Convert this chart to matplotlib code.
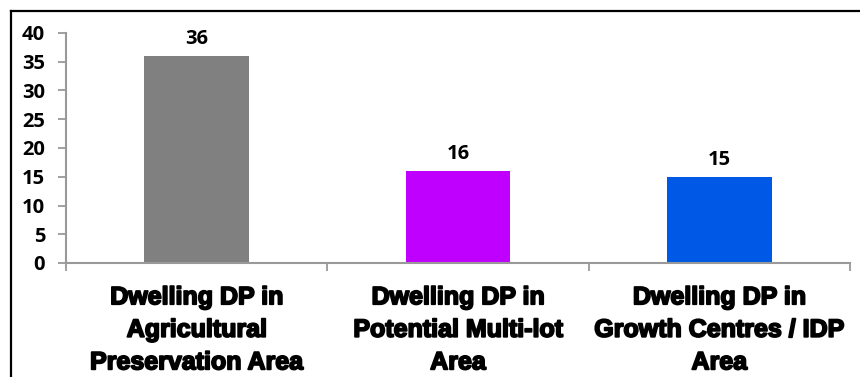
import matplotlib.pyplot as plt
from matplotlib.lines import Line2D
import matplotlib.patheffects as pe

categories = ['Dwelling DP in\nAgricultural\nPreservation Area',
              'Dwelling DP in\nPotential Multi-lot\nArea',
              'Dwelling DP in\nGrowth Centres / IDP\nArea']
values = [36, 16, 15]
colors = ['#808080', '#C000FF', '#0058E6']
y_ticks = [0, 5, 10, 15, 20, 25, 30, 35, 40]

num_font = dict(fontsize=14.5, fontweight='bold', family='Open Sans')

fig = plt.figure(figsize=(8.6, 3.77), dpi=100)
ax = fig.add_axes([66 / 860, 1 - 263 / 377, 784 / 860, 230 / 377])

x = range(len(categories))
bars = ax.bar(x, values, width=0.40, color=colors, zorder=2)

for b, v in zip(bars, values):
    ax.annotate(str(v), (b.get_x() + b.get_width() / 2, v),
                xytext=(0, 5), textcoords='offset points',
                ha='center', va='bottom', **num_font)

ax.set_xlim(-0.5, len(categories) - 0.5)
ax.set_ylim(0, 40)
ax.set_yticks(y_ticks)
ax.set_yticklabels([str(t) for t in y_ticks], **num_font)

# category labels sit between boundary ticks
ax.set_xticks(list(x))
ax.set_xticklabels(categories, fontsize=18, fontweight='bold',
                   family='Liberation Sans', linespacing=1.45)
for lbl in ax.get_xticklabels():
    lbl.set_path_effects([pe.withStroke(linewidth=1.3, foreground='black')])
ax.set_xticks([i - 0.5 for i in range(len(categories) + 1)], minor=True)
ax.tick_params(axis='x', which='major', length=0, pad=16)
ax.tick_params(axis='x', which='minor', length=6, width=1.3, color='#999999')
ax.tick_params(axis='y', length=6, width=1.3, color='#999999', pad=9)

for s in ['top', 'right']:
    ax.spines[s].set_visible(False)
for s in ['left', 'bottom']:
    ax.spines[s].set_color('#999999')
    ax.spines[s].set_linewidth(1.5)

# frame around the chart (left and top edges)
W, H = 860, 377
fig.add_artist(Line2D([10.5 / W, 10.5 / W], [1 - 10.5 / H, 0], color='black', lw=1.6,
                      transform=fig.transFigure))
fig.add_artist(Line2D([10.5 / W, 1], [1 - 10.5 / H, 1 - 10.5 / H], color='black', lw=1.6,
                      transform=fig.transFigure))

fig.savefig('out.png', dpi=100)
